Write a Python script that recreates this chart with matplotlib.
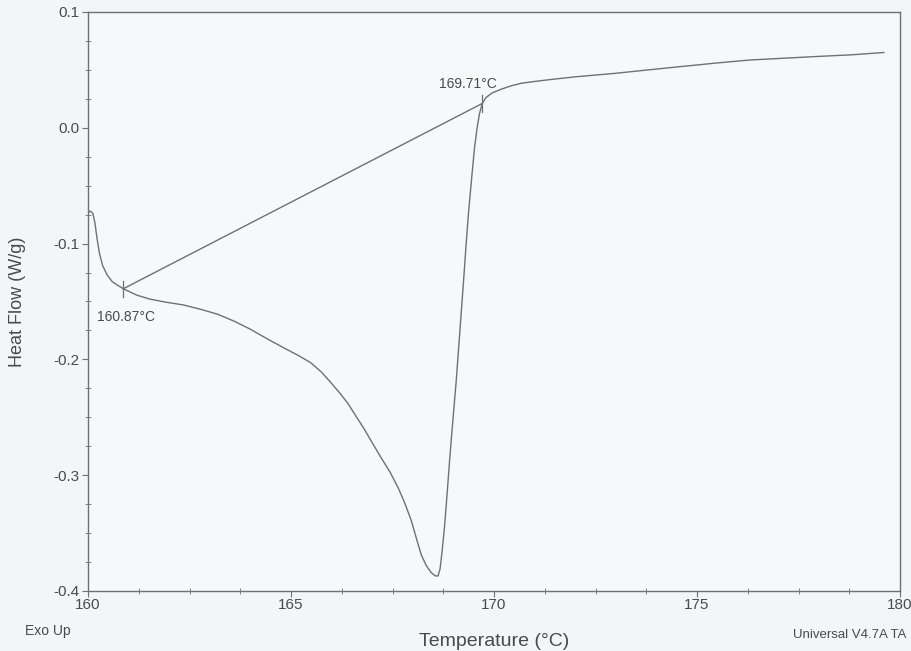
import matplotlib
matplotlib.use("Agg")
import matplotlib.pyplot as plt
from matplotlib.ticker import MultipleLocator, FormatStrFormatter

plt.rcParams['font.family'] = ['Liberation Sans', 'DejaVu Sans']

# DSC trace
temp = [160.0, 160.06, 160.12, 160.17, 160.22, 160.28, 160.36, 160.47, 160.6, 160.73,
        160.87, 161.2, 161.53, 161.9, 162.35, 162.8, 163.19, 163.6, 164.0, 164.4,
        164.82, 165.2, 165.49, 165.75, 165.98, 166.2, 166.4, 166.6, 166.8, 167.0,
        167.22, 167.45, 167.64, 167.8, 167.96, 168.1, 168.21, 168.33, 168.45, 168.55,
        168.62, 168.67, 168.72, 168.78, 168.84, 168.9, 168.95, 169.0, 169.07, 169.16,
        169.25, 169.31, 169.37, 169.45, 169.52, 169.58, 169.64, 169.71, 169.8, 169.95,
        170.19, 170.45, 170.68, 171.0, 171.35, 172.0, 172.98, 173.8, 174.64, 175.5,
        176.29, 177.1, 177.92, 178.8, 179.6]
heat = [-0.073, -0.072, -0.074, -0.082, -0.095, -0.108, -0.119, -0.127, -0.133, -0.136,
        -0.139, -0.1445, -0.148, -0.1505, -0.153, -0.157, -0.161, -0.167, -0.174, -0.182,
        -0.19, -0.197, -0.203, -0.211, -0.22, -0.229, -0.238, -0.249, -0.26, -0.272,
        -0.285, -0.298, -0.311, -0.324, -0.339, -0.356, -0.369, -0.378, -0.384, -0.387,
        -0.387, -0.381, -0.366, -0.345, -0.318, -0.29, -0.268, -0.247, -0.218, -0.175,
        -0.132, -0.102, -0.074, -0.043, -0.017, -0.001, 0.012, 0.021, 0.026, 0.03,
        0.0335, 0.0365, 0.0385, 0.04, 0.0415, 0.044, 0.047, 0.05, 0.053, 0.056,
        0.0585, 0.06, 0.0615, 0.063, 0.065]

onset = [160.87, -0.139]
end = [169.71, 0.021]
labels = ["160.87°C", "169.71°C"]

grey = '#707070'
txt = '#4a4a4a'

fig = plt.figure(figsize=(9.11, 6.51), dpi=100, facecolor='#f4f5f8')
ax = fig.add_axes([0.0966, 0.0922, 0.8914, 0.8894])
ax.set_facecolor('#f7f8fa')

ax.plot(temp, heat, color=grey, lw=1.0)
ax.plot([onset[0], end[0]], [onset[1], end[1]], color=grey, lw=1.0)

# little tick marks at the picked points
for px, py in [onset, end]:
    ax.plot([px, px], [py - 0.007, py + 0.007], color=grey, lw=0.9)

ax.text(160.21, -0.163, labels[0], fontsize=10, color=txt, va='center', ha='left')
ax.text(169.36, 0.038, labels[1], fontsize=10, color=txt, va='center', ha='center')

ax.set_xlim(160, 180)
ax.set_ylim(-0.4, 0.1)
ax.xaxis.set_major_locator(MultipleLocator(5))
ax.xaxis.set_minor_locator(MultipleLocator(1.25))
ax.yaxis.set_major_locator(MultipleLocator(0.1))
ax.yaxis.set_minor_locator(MultipleLocator(0.025))
ax.yaxis.set_major_formatter(FormatStrFormatter('%.1f'))

for s in ax.spines.values():
    s.set_color(grey)
    s.set_linewidth(1.0)

ax.tick_params(which='major', direction='out', length=4, color=grey, labelcolor=txt, labelsize=11)
ax.tick_params(which='minor', direction='inout', length=4, color=grey)
ax.tick_params(axis='x', pad=1)
ax.tick_params(axis='y', pad=2)

ax.set_xlabel("Temperature (°C)", fontsize=14, color=txt, labelpad=15)
ax.set_ylabel("Heat Flow (W/g)", fontsize=13, color=txt, labelpad=20)

fig.text(0.027, 0.031, "Exo Up", fontsize=10, color=txt, ha='left', va='center')
fig.text(0.995, 0.024, "Universal V4.7A TA", fontsize=9.5, color=txt, ha='right', va='center')

fig.savefig("out.png", dpi=100, facecolor=fig.get_facecolor())
